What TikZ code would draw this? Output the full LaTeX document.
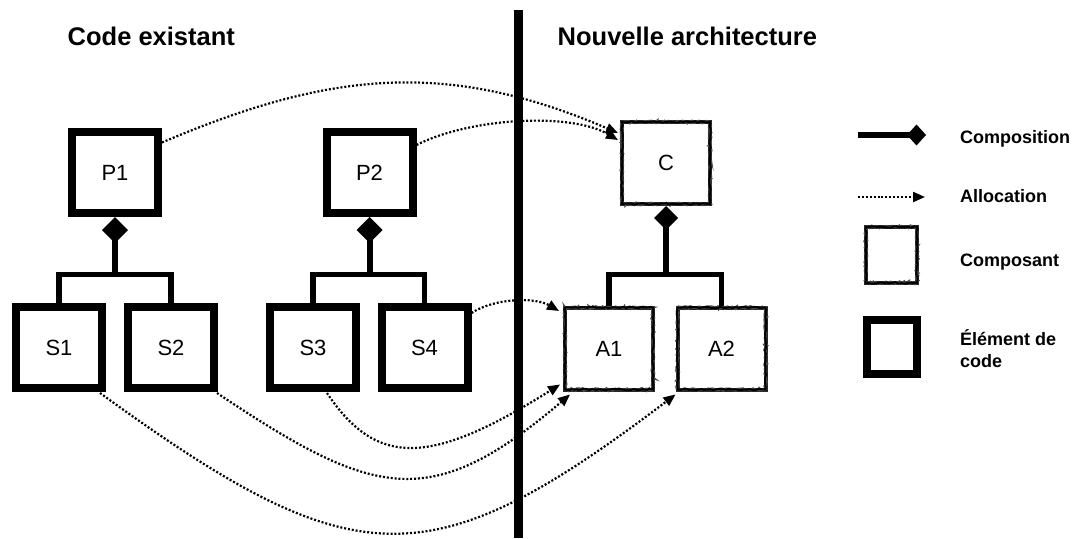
\documentclass[tikz,border=0pt]{standalone}
\usepackage{fontspec}
\setmainfont{Liberation Sans}
\usetikzlibrary{arrows.meta,calc,decorations.pathmorphing}
\begin{document}
\begin{tikzpicture}[x=1pt,y=-1pt,
  codebox/.style={draw=black, line width=8pt, minimum width=86pt, minimum height=81pt, inner sep=0pt, font=\fontsize{22}{26}\selectfont},
  compbox/.style={draw=black!85, line width=4pt, minimum width=88pt, minimum height=82pt, inner sep=0pt, font=\fontsize{22}{26}\selectfont,
     postaction={draw=black!70, line width=2.4pt, decorate, decoration={random steps, segment length=1.5pt, amplitude=1.1pt}},
     postaction={draw=black, line width=2pt, decorate, decoration={random steps, segment length=3pt, amplitude=0.7pt}}},
  titletext/.style={font=\bfseries\fontsize{25.5}{30}\selectfont, inner sep=0pt, anchor=base west},
  legtext/.style={font=\bfseries\fontsize{18}{22}\selectfont, inner sep=0pt, anchor=base west},
  stem/.style={draw=black, line width=6pt, line cap=butt, line join=miter},
  bar/.style={draw=black, line width=5.5pt, line cap=butt, line join=miter},
  alloc/.style={draw=black, line width=2.2pt, dash pattern=on 2pt off 1.9pt, -{Triangle[length=12pt,width=10pt]}}
]
\useasboundingbox (0,0) rectangle (1083,538);

% titles
\node[titletext] (t1) at (67.5,45) {Code existant};
\node[titletext] (t2) at (557.5,45) {Nouvelle architecture};

% code elements
\node[codebox] (P1) at (115,172.5) {P1};
\node[codebox] (P2) at (369.5,172.5) {P2};
\node[codebox] (S1) at (59,347.5) {S1};
\node[codebox] (S2) at (171,347.5) {S2};
\node[codebox] (S3) at (313,347.5) {S3};
\node[codebox] (S4) at (424.5,347.5) {S4};

% components
\node[compbox] (C) at (666,163) {C};
\node[compbox] (A1) at (609,348.5) {A1};
\node[compbox] (A2) at (721.5,348.5) {A2};

% composition
\coordinate (b1) at (115,274.5);
\coordinate (b2) at (369.5,274.5);
\coordinate (b3) at (666,274.5);
\draw[stem, {Diamond[length=26pt,width=26pt,line width=0pt]}-] (P1.south) -- (b1);
\draw[bar] (S1.north) |- (b1) -| (S2.north);
\draw[stem, {Diamond[length=26pt,width=26pt,line width=0pt]}-] (P2.south) -- (b2);
\draw[bar] (S3.north) |- (b2) -| (S4.north);
\draw[stem, {Diamond[length=24pt,width=24pt,line width=0pt]}-] (C.south) -- (b3);
\draw[bar] (A1.north) |- (b3) -| (A2.north);

% allocations
\draw[alloc] ($(P1.east)+(0,-30)$) .. controls +(169,-72) and +(-170,-73) .. ($(C.west)+(-2,-30)$);
\draw[alloc] ($(P2.east)+(0,-27.5)$) .. controls +(53,-27) and +(-48,-28) .. ($(C.west)+(-2,-23)$);
\draw[alloc] ($(S4.east)+(0,-34.5)$) .. controls +(23,-15) and +(-24,-14) .. ($(A1.west)+(-4,-37.5)$);
\draw[alloc] ($(S3.south)+(14,1)$) .. controls +(50,75) and +(-129,81) .. ($(A1.south west)+(-3,-7)$);
\draw[alloc] ($(S2.south east)+(-1,1)$) .. controls +(157,105) and +(-140,119) .. ($(A1.south west)+(7,3)$);
\draw[alloc] ($(S1.south east)+(-6,1)$) .. controls +(254,184) and +(-247,187) .. ($(A2.south west)+(0,3)$);

% divider
\coordinate (d1) at (518,10);
\coordinate (d2) at (518,538);
\draw[line width=9pt] (d1) -- (d2);

% legend
\coordinate (lc1) at (858,135);
\coordinate (lc2) at (926,135);
\draw[stem, -{Diamond[length=19pt,width=21pt,line width=0pt]}] (lc1) -- (lc2);
\coordinate (la1) at (858,197);
\coordinate (la2) at (925,197);
\draw[alloc] (la1) -- (la2);
\node[compbox, minimum width=51pt, minimum height=56pt] (lcomp) at (891.5,255) {};
\node[codebox, minimum width=50pt, minimum height=54pt] (lcode) at (892,347) {};
\node[legtext] (g1) at (960,143) {Composition};
\node[legtext] (g2) at (960,202) {Allocation};
\node[legtext] (g3) at (960,266) {Composant};
\node[legtext] (g4) at (960,345) {Élément de};
\node[legtext] (g5) at (960,367) {code};
\end{tikzpicture}
\end{document}
